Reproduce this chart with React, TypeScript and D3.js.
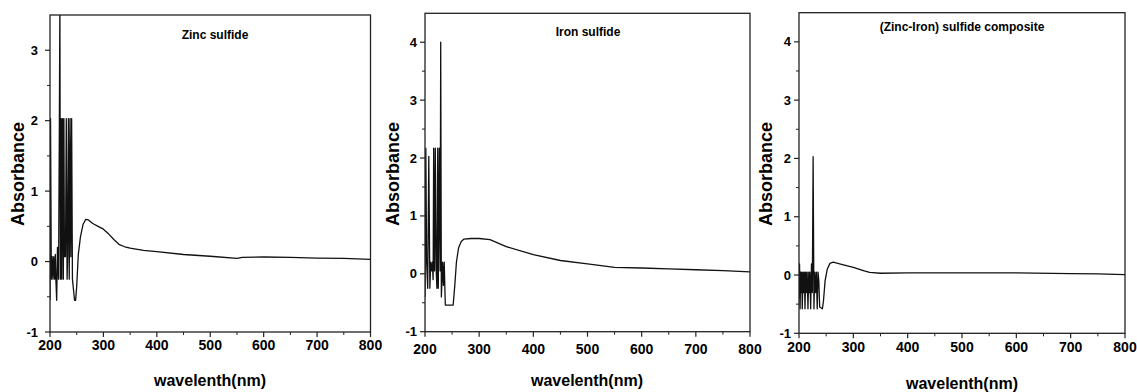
import * as d3 from 'd3';
import { FC } from 'react';

// [wavelength nm, absorbance]
const zincSulfide: [number, number][] = [
  [200, -0.55], [201, 2.03], [202.5, -0.25], [204, 0.07], [205.5, -0.25], [207, 0.07],
  [208.5, -0.25], [210, 0.1], [211, -0.25], [212.5, -0.55], [214, 0.2], [216, -0.25],
  [217.5, 1.9], [218.5, 3.7], [219.5, -0.25], [221, 2.03], [222, -0.25], [223.5, 2.03],
  [225, -0.25], [226, 2.03], [227, 0.07], [229, 0.07], [230.5, 2.03], [232, -0.25],
  [233, 0.07], [234.5, 2.03], [236, -0.25], [237.5, 2.03], [239, 0.07], [240.5, 2.03],
  [242, -0.25], [244, -0.4], [246, -0.55], [248, -0.55], [250, -0.35], [253, 0.1],
  [257, 0.35], [262, 0.53], [267, 0.6], [272, 0.59], [280, 0.54], [290, 0.5],
  [300, 0.46], [310, 0.39], [320, 0.31], [330, 0.24], [340, 0.21], [350, 0.19],
  [375, 0.16], [400, 0.14], [450, 0.1], [500, 0.075], [550, 0.045], [560, 0.06],
  [600, 0.065], [650, 0.06], [700, 0.05], [750, 0.045], [800, 0.03],
];

const ironSulfide: [number, number][] = [
  [200, -0.4], [201.5, 2.17], [203, 0.2], [205, -0.25], [207, 2.03], [209, -0.25],
  [210.5, 0.2], [212, 0.05], [213.5, 0.2], [215, -0.1], [216, 2.17], [217.5, 0.05],
  [219, 2.17], [220.5, 0.1], [222, -0.25], [223.5, 2.17], [224.5, -0.25], [226.5, 2.17],
  [228, 0.05], [229, 4.0], [230.2, -0.4], [232.5, 0.2], [234, -0.2], [235.5, 0.2],
  [237.5, -0.54], [252, -0.54], [255, -0.2], [258, 0.2], [262, 0.45], [267, 0.56],
  [272, 0.6], [285, 0.61], [300, 0.61], [320, 0.59], [350, 0.47], [400, 0.33],
  [450, 0.23], [500, 0.17], [550, 0.11], [600, 0.1], [650, 0.085], [700, 0.07],
  [750, 0.055], [800, 0.035],
];

const compositeSulfide: [number, number][] = [
  [200, -0.4], [201, 0.19], [202, -0.58], [203, 0.05], [204, -0.3], [205, 0.05],
  [206, -0.58], [207.5, 0.05], [208.5, -0.3], [210, 0.05], [211, -0.58], [212.5, 0.05],
  [214, -0.3], [215, 0.05], [216.5, -0.58], [218, 0.05], [219, -0.3], [220, 0.05],
  [221.5, -0.58], [223, 0.19], [224.5, -0.3], [226, 2.03], [227.5, -0.58], [229, 0.05],
  [230.5, -0.3], [232, 0.05], [233.5, -0.58], [235, 0.05], [236.5, -0.1], [238, -0.55],
  [243, -0.58], [245, -0.45], [248, -0.1], [252, 0.1], [257, 0.2], [263, 0.22],
  [280, 0.18], [300, 0.13], [320, 0.07], [330, 0.045], [350, 0.03], [400, 0.035],
  [500, 0.035], [600, 0.035], [700, 0.025], [750, 0.02], [800, 0.005],
];

const xTicks = [200, 300, 400, 500, 600, 700, 800];
const yTicksZinc = [-1, 0, 1, 2, 3];
const yTicksIron = [-1, 0, 1, 2, 3, 4];

const FONT = '"Liberation Sans", Arial, sans-serif';

interface PanelProps {
  id: string;
  data: [number, number][];
  title: string;
  yMax: number;
  yTicks: number[];
  left: number;
  right: number;
  top: number;
  bottom: number;
  titleX: number;
  titleY: number;
  xLabelX: number;
  xLabelY: number;
  xTickY: number;
  yTickGap: number;
  yLabelX: number;
}

const Panel: FC<PanelProps> = (p) => {
  const x = d3.scaleLinear().domain([200, 800]).range([p.left, p.right]);
  const y = d3.scaleLinear().domain([-1, p.yMax]).range([p.bottom, p.top]);
  const line = d3
    .line<[number, number]>()
    .x((d) => x(d[0]))
    .y((d) => y(d[1]));
  const minorX = d3.range(250, 800, 100);
  const minorY = d3.range(-0.5, p.yMax, 1);

  return (
    <g>
      <defs>
        <clipPath id={p.id}>
          <rect x={p.left} y={p.top} width={p.right - p.left} height={p.bottom - p.top} />
        </clipPath>
      </defs>
      <path
        d={line(p.data) as string}
        fill="none"
        stroke="#111"
        strokeWidth={1.3}
        strokeLinejoin="round"
        clipPath={`url(#${p.id})`}
      />
      <rect
        x={p.left}
        y={p.top}
        width={p.right - p.left}
        height={p.bottom - p.top}
        fill="none"
        stroke="#222"
        strokeWidth={1.3}
      />
      {xTicks.map((t) => (
        <g key={'x' + t}>
          <line x1={x(t)} x2={x(t)} y1={p.bottom} y2={p.bottom + 5} stroke="#222" strokeWidth={1.2} />
          <text
            x={x(t)}
            y={p.xTickY}
            textAnchor="middle"
            dominantBaseline="central"
            fontFamily={FONT}
            fontWeight="bold"
            fontSize={14}
          >
            {t}
          </text>
        </g>
      ))}
      {minorX.map((t) => (
        <line key={'mx' + t} x1={x(t)} x2={x(t)} y1={p.bottom} y2={p.bottom + 3} stroke="#222" strokeWidth={1} />
      ))}
      {p.yTicks.map((t) => (
        <g key={'y' + t}>
          <line x1={p.left - 5} x2={p.left} y1={y(t)} y2={y(t)} stroke="#222" strokeWidth={1.2} />
          <text
            x={p.left - p.yTickGap}
            y={y(t)}
            textAnchor="end"
            dominantBaseline="central"
            fontFamily={FONT}
            fontWeight="bold"
            fontSize={13}
          >
            {t}
          </text>
        </g>
      ))}
      {minorY.map((t) => (
        <line key={'my' + t} x1={p.left - 3} x2={p.left} y1={y(t)} y2={y(t)} stroke="#222" strokeWidth={1} />
      ))}
      <text
        x={p.titleX}
        y={p.titleY}
        textAnchor="middle"
        dominantBaseline="central"
        fontFamily={FONT}
        fontWeight="bold"
        fontSize={12}
      >
        {p.title}
      </text>
      <text
        x={p.xLabelX}
        y={p.xLabelY}
        textAnchor="middle"
        dominantBaseline="central"
        fontFamily={FONT}
        fontWeight="bold"
        fontSize={16}
      >
        wavelenth(nm)
      </text>
      <text
        transform={`translate(${p.yLabelX},174) rotate(-90)`}
        textAnchor="middle"
        dominantBaseline="central"
        fontFamily={FONT}
        fontWeight="bold"
        fontSize={18}
      >
        Absorbance
      </text>
    </g>
  );
};

export default function App() {
  return (
    <svg
      width={1137}
      height={392}
      style={{ position: 'absolute', left: 0, top: 0, background: '#fff' }}
    >
      <Panel
        id="c1"
        data={zincSulfide}
        title="Zinc sulfide"
        yMax={3.5}
        yTicks={yTicksZinc}
        left={50}
        right={370.5}
        top={15}
        bottom={332}
        titleX={215}
        titleY={35}
        xLabelX={210}
        xLabelY={380}
        xTickY={345}
        yTickGap={12}
        yLabelX={18}
      />
      <Panel
        id="c2"
        data={ironSulfide}
        title="Iron sulfide"
        yMax={4.5}
        yTicks={yTicksIron}
        left={425}
        right={750}
        top={13.3}
        bottom={331.7}
        titleX={588}
        titleY={32}
        xLabelX={587}
        xLabelY={380}
        xTickY={349}
        yTickGap={8}
        yLabelX={393}
      />
      <Panel
        id="c3"
        data={compositeSulfide}
        title="(Zinc-Iron) sulfide composite"
        yMax={4.5}
        yTicks={yTicksIron}
        left={799}
        right={1125}
        top={12.7}
        bottom={333.3}
        titleX={962}
        titleY={27}
        xLabelX={962}
        xLabelY={383}
        xTickY={347}
        yTickGap={8}
        yLabelX={766}
      />
    </svg>
  );
}
